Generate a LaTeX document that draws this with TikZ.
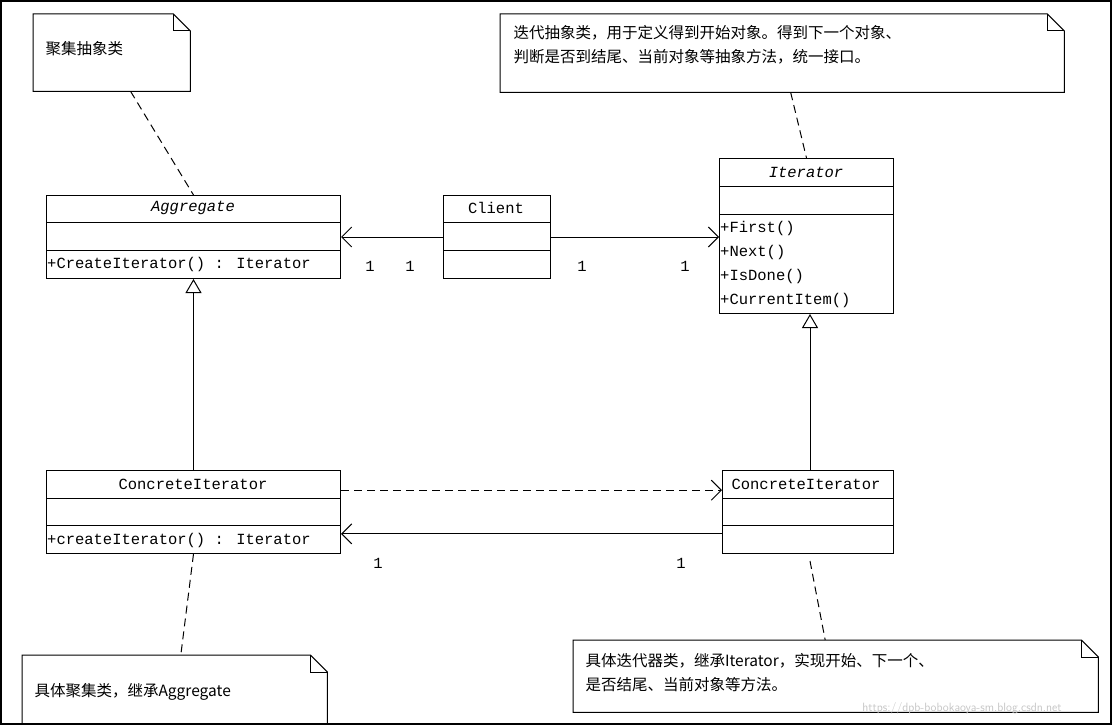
\documentclass[tikz,border=0pt]{standalone}
\usepackage{fontspec}
\setmainfont{Liberation Mono}
\newfontfamily\cjk{Noto Sans CJK SC}
\usetikzlibrary{arrows.meta,calc}
\begin{document}
\begin{tikzpicture}[x=1pt,y=-1pt,
  cls/.style={draw,line width=1pt,anchor=north west,inner sep=0,font=\fontsize{15.5}{17}\selectfont},
  note/.style={anchor=north west,inner sep=0},
  ntext/.style={anchor=north west,align=left,font=\cjk\fontsize{15.5}{24}\selectfont},
  mtext/.style={anchor=west,inner sep=1pt,font=\fontsize{15.5}{17}\selectfont},
  ttext/.style={anchor=center,font=\fontsize{15.5}{17}\selectfont},
  mult/.style={font=\fontsize{15.5}{17}\selectfont},
  open/.style={-{Straight Barb[length=10pt,width=20pt]}},
  inh/.style={-{Triangle[open,length=14pt,width=16pt,fill=white]}},
  dsh/.style={dash pattern=on 8pt off 5pt, line width=1pt}]
\useasboundingbox (0,0) rectangle (1112,725);
\fill[white] (0,0) rectangle (1112,725);
\draw[line width=4pt] (0,0) rectangle (1112,725);
\newcommand{\notebox}[5]{% name, x1,y1,x2,y2
  \node[note,minimum width={#4-#2},minimum height={#5-#3}] (#1) at (#2,#3) {};
  \draw[line width=1pt] (#1.south west) -- (#1.north west) -- ($(#1.north east)+(-17,0)$) -- ($(#1.north east)+(0,17)$) -- (#1.south east) -- cycle;
  \draw[line width=1pt] ($(#1.north east)+(-17,0)$) -- ($(#1.north east)+(-17,17)$) -- ($(#1.north east)+(0,17)$);}
\newcommand{\clsbox}[7]{% name,x1,y1,x2,y2,row1,row2
  \node[cls,minimum width={#4-#2},minimum height={#5-#3}] (#1) at (#2,#3) {};
  \draw[line width=1pt] (#2,#6) -- (#4,#6) (#2,#7) -- (#4,#7);}
% notes
\notebox{n1}{33}{14}{190}{91}
\node[ntext] at (42,38) {聚集抽象类};
\notebox{n2}{500}{14}{1064}{92}
\node[ntext] at (510,22) {迭代抽象类，用于定义得到开始对象。得到下一个对象、\\判断是否到结尾、当前对象等抽象方法，统一接口。};
\notebox{n3}{22}{655}{327}{730}
\node[ntext] at (31,680) {具体聚集类，继承Aggregate};
\notebox{n4}{573}{640}{1098}{712}
\node[ntext] at (582,650) {具体迭代器类，继承Iterator，实现开始、下一个、\\是否结尾、当前对象等方法。};
% classes
\clsbox{agg}{46}{195}{340}{278}{222}{250}
\node[ttext] at (193,208) {\itshape Aggregate};
\node[mtext] at (46,264) {+CreateIterator() : Iterator};
\clsbox{client}{443}{195}{550}{278}{222}{250}
\node[ttext] at (496,208) {Client};
\clsbox{iter}{719}{158}{893}{313}{186}{214}
\node[ttext] at (806,172) {\itshape Iterator};
\node[mtext] at (719,228) {+First()};
\node[mtext] at (719,252) {+Next()};
\node[mtext] at (719,276) {+IsDone()};
\node[mtext] at (719,300) {+CurrentItem()};
\clsbox{ca}{46}{470}{340}{553}{498}{525}
\node[ttext] at (193,484) {ConcreteIterator};
\node[mtext] at (46,540) {+createIterator() : Iterator};
\clsbox{ci}{722}{470}{893}{553}{498}{525}
\node[ttext] at (806,484) {ConcreteIterator};
% connectors
\draw[open,line width=1pt] (client) -- (agg);
\draw[open,line width=1pt] (client.east) -- (client.east -| iter.west);
\draw[inh,line width=1pt] (ca.north) -- (agg.south);
\coordinate (cit) at ($(ci.north)+(2,0)$);
\draw[inh,line width=1pt] (cit) -- (cit |- iter.south);
\coordinate (a1) at ($(ca.north east)!0.24!(ca.south east)$);
\draw[open,dsh] (a1) -- (a1 -| ci.west);
\coordinate (a2) at ($(ci.north west)!0.76!(ci.south west)$);
\draw[open,line width=1pt] (a2) -- (a2 -| ca.east);
% multiplicities
\node[mult] at (370,266) {1};
\node[mult] at (410,266) {1};
\node[mult] at (582,266) {1};
\node[mult] at (685,266) {1};
\node[mult] at (378,563) {1};
\node[mult] at (681,563) {1};
% note links
\draw[dsh] ($(n1.south west)!0.62!(n1.south east)$) -- ($(agg.north)+(0,0)$);
\draw[dsh] ($(n2.south west)!0.515!(n2.south east)$) -- (iter.north);
\draw[dsh] (ca.south) -- ($(n3.north west)!0.52!(n3.north east)$);
\draw[dsh] ($(ci.south)+(2,7)$) -- ($(n4.north west)!0.48!(n4.north east)$);
\node[text=gray!45,font=\fontsize{12}{14}\selectfont\sffamily] at (962,708) {https://dpb-bobokaoya-sm.blog.csdn.net};
\end{tikzpicture}
\end{document}
